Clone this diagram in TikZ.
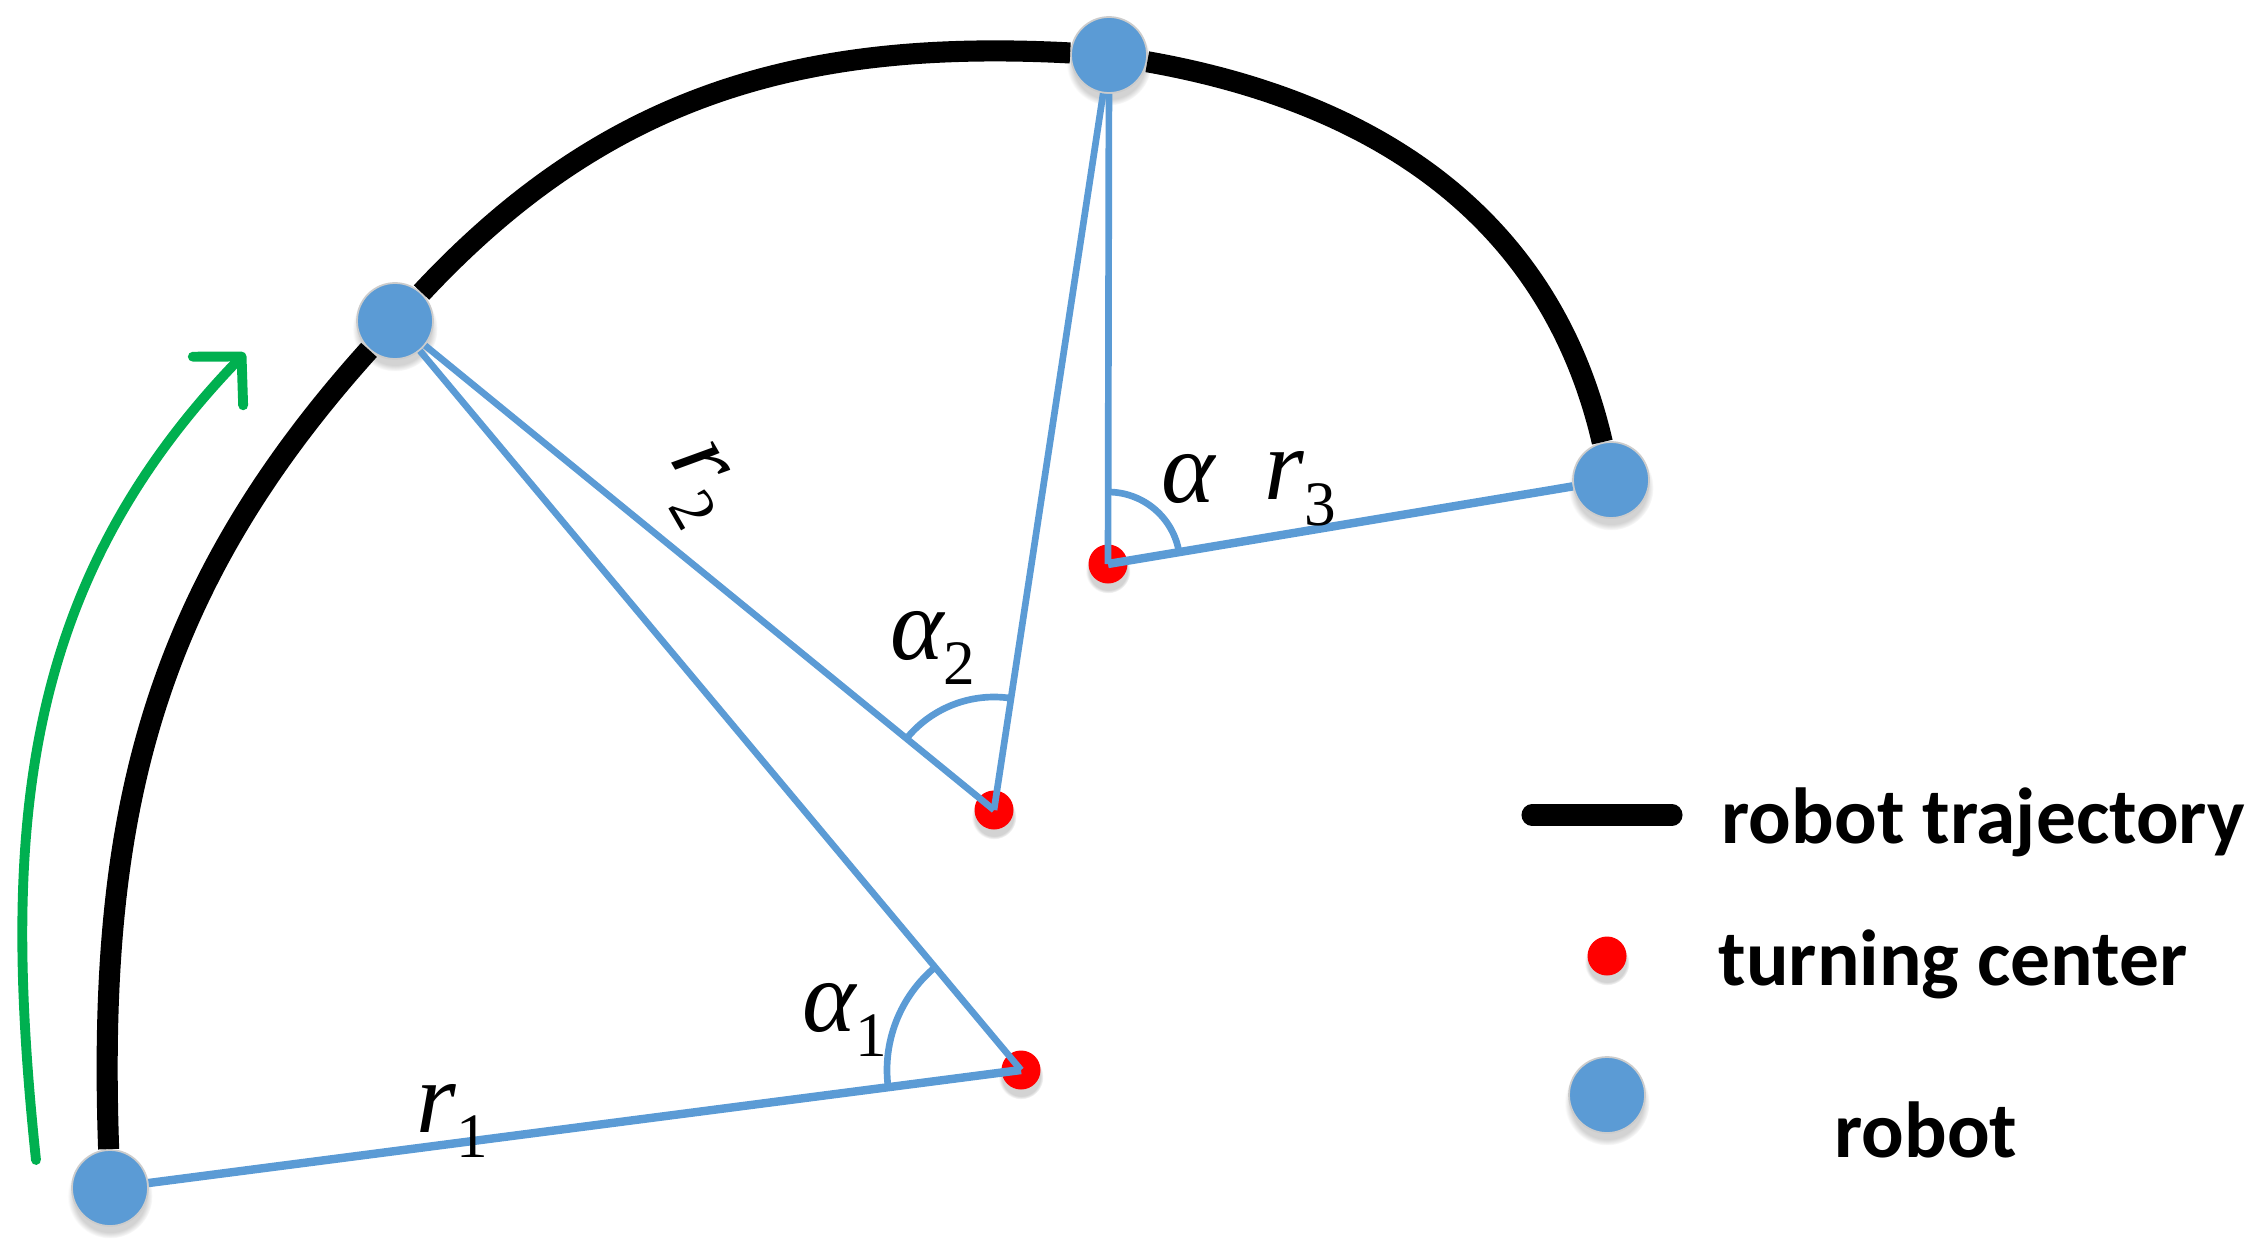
\documentclass[tikz,border=0pt]{standalone}
\usepackage{fontspec}
\usepackage{tikz}
\usetikzlibrary{arrows.meta, shadows, angles}
\newfontfamily\labelfont{Liberation Serif}
\newfontfamily\legendfont{Carlito}
\definecolor{robotblue}{HTML}{5B9BD5}
\definecolor{arrowgreen}{HTML}{00B050}
\newcommand{\symlabel}[2]{{\itshape #1}\raisebox{-0.25em}{\fontsize{18}{18}\selectfont #2}}
\tikzset{
    robot/.style={circle, fill=robotblue, draw=black!20, line width=0.5pt,
        minimum size=0.76cm, inner sep=0pt,
        circular drop shadow={shadow xshift=0pt, shadow yshift=-0.07cm, shadow scale=1.12, opacity=0.35}},
    turncenter/.style={circle, fill=red, minimum size=0.39cm, inner sep=0pt,
        circular drop shadow={shadow xshift=0pt, shadow yshift=-0.06cm, shadow scale=1.15, opacity=0.35}},
    trajectory/.style={line width=6pt},
    rline/.style={robotblue, line width=1.9pt},
    motion/.style={arrowgreen, line width=2.8pt, line cap=round,
        -{Straight Barb[length=3.4mm, width=7mm, round]}},
    mathlabel/.style={font=\labelfont\fontsize{29}{34}\selectfont, inner sep=0pt},
    legendtext/.style={font=\legendfont\bfseries\fontsize{22.6}{27}\selectfont, inner sep=0pt},
}
\begin{document}
\begin{tikzpicture}[x=0.1mm, y=0.1mm]
    \useasboundingbox (0,0) rectangle (2268,1245);

    % robots along the path
    \node[robot] (A) at (110,57)   {};
    \node[robot] (B) at (395,924)  {};
    \node[robot] (C) at (1109,1190) {};
    \node[robot] (D) at (1611,765) {};

    % turning centers
    \node[turncenter] (C1) at (1021,175) {};
    \node[turncenter] (C2) at (994,435)  {};
    \node[turncenter] (C3) at (1108,681) {};

    \draw[trajectory]
        (A) to[out=92, in=228] (B)
        (B) to[out=47, in=177] (C)
        (C) to[out=-10, in=103] (D);

    \draw[rline]
        (C1.center) edge[line width=2.4pt] (A)
        (C1.center) edge (B)
        (C2.center) edge (B)
        (C2.center) edge (C)
        (C3.center) edge (C)
        (C3.center) edge[line width=2.4pt] (D);

    \pic[draw=robotblue, line width=1.9pt, angle radius=1.34cm] {angle = B--C1--A};
    \pic[draw=robotblue, line width=1.9pt, angle radius=1.13cm] {angle = C--C2--B};
    \pic[draw=robotblue, line width=1.9pt, angle radius=0.72cm] {angle = D--C3--C};

    \node[mathlabel]             (r1) at (452,124)  {\symlabel{r}{1}};
    \node[mathlabel]             (a1) at (845,225)  {\symlabel{α}{1}};
    \node[mathlabel, rotate=-60] (r2) at (697,760)  {\symlabel{r}{2}};
    \node[mathlabel]             (a2) at (933,597)  {\symlabel{α}{2}};
    \node[mathlabel]             (a)  at (1188,766) {\itshape α};
    \node[mathlabel]             (r3) at (1300,756) {\symlabel{r}{3}};

    % direction of motion
    \coordinate (mvS) at (36,85);
    \coordinate (mvE) at (245,892);
    \draw[motion] (mvS) to[out=96, in=226] (mvE);

    % legend
    \coordinate (legL) at (1532,430);
    \coordinate (legR) at (1672,430);
    \draw[trajectory, line cap=round] (legL) -- (legR);
    \node[turncenter] (legCenter) at (1607,289) {};
    \node[robot]      (legRobot)  at (1607,150) {};
    \node[legendtext, anchor=west] (legTraj) at (1721,423) {robot trajectory};
    \node[legendtext, anchor=west] (legTurn) at (1718,281) {turning center};
    \node[legendtext]              (legRob)  at (1926,115) {robot};
\end{tikzpicture}
\end{document}
